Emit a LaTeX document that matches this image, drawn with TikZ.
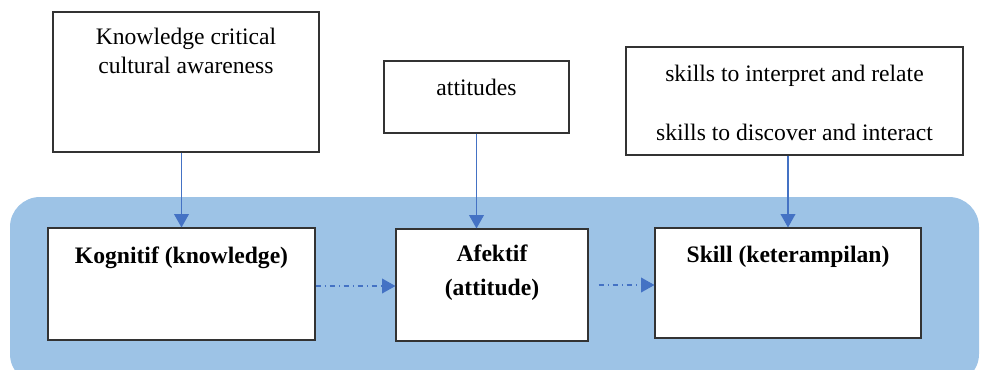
\documentclass[tikz,border=0pt]{standalone}
\usepackage{fontspec}
\setmainfont{Liberation Serif}
\usetikzlibrary{positioning,arrows.meta}
\definecolor{bgblue}{RGB}{157,195,230}
\definecolor{arrblue}{RGB}{68,114,196}
\begin{document}
\begin{tikzpicture}[box/.style={draw=black!80,line width=0.8pt,fill=white,rectangle,inner sep=0pt},
    txt/.style={align=center,font=\fontsize{16.8}{20}\selectfont,inner sep=0pt},
    btxt/.style={align=center,font=\fontsize{16.8}{24}\selectfont\bfseries,inner sep=0pt},
    link/.style={draw=arrblue,line width=0.8pt,-{Triangle[width=10.5pt,length=9.5pt]}},
    flow/.style={link,dash pattern=on 4pt off 2.5pt on 1pt off 2.5pt}]
     \useasboundingbox (0,0) rectangle (24.525,-9.225);
     \begin{scope}
     \clip (0,0) rectangle (24.525,-9.225);
     \fill[bgblue,rounded corners=0.75cm] (0.25,-4.925) rectangle (24.475,-9.6);
     \end{scope}

     % upper boxes
     \node[box,minimum width=6.65cm,minimum height=3.5cm] (know) at (4.65,-2.05) {};
     \node[box,minimum width=4.625cm,minimum height=1.8cm] (att) at (11.9125,-2.425) {};
     \node[box,minimum width=8.425cm,minimum height=2.7cm] (skl) at (19.8625,-2.525) {};
     \node[txt,anchor=north] (knowt) at ([yshift=-0.42cm]know.north) {Knowledge critical\\cultural awareness};
     \node[txt,anchor=north] (attt) at ([yshift=-0.45cm]att.north) {attitudes};
     \node[txt,anchor=north] (sklt) at ([yshift=-0.45cm]skl.north) {skills to interpret and relate\\[22pt]skills to discover and interact};

     % lower boxes
     \node[box,minimum width=6.675cm,minimum height=2.8cm] (kog) at (4.5375,-7.1) {};
     \node[box,minimum width=4.8cm,minimum height=2.8cm] (afek) at (12.3,-7.125) {};
     \node[box,minimum width=6.65cm,minimum height=2.75cm] (skill) at (19.7,-7.075) {};
     \node[btxt,anchor=north] (kogt) at ([yshift=-0.47cm]kog.north) {Kognitif (knowledge)};
     \node[btxt,anchor=north] (afekt) at ([yshift=-0.4cm]afek.north) {Afektif\\(attitude)};
     \node[btxt,anchor=north] (skillt) at ([yshift=-0.47cm]skill.north) {Skill (keterampilan)};

     \draw[link] (kog.north |- know.south) -- (kog.north);
     \draw[link] (att.south) -- (att.south |- afek.north);
     \draw[link] (skill.north |- skl.south) -- (skill.north);
     \draw[flow] ([yshift=-0.05cm]kog.east) -- ([yshift=-0.05cm]kog.east -| afek.west);
     \draw[flow,shorten <=0.25cm] (afek.east) -- (afek.east -| skill.west);
\end{tikzpicture}
\end{document}
